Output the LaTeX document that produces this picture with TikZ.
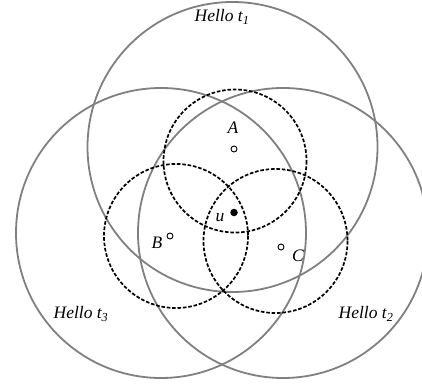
\documentclass[tikz,border=0pt]{standalone}
\usepackage{fontspec}
\setmainfont{Liberation Serif}
\begin{document}
\begin{tikzpicture}[x=1pt,y=-1pt,
  big/.style={draw=black!50, line width=1.8pt},
  rng/.style={draw=black, line width=1.7pt, dash pattern=on 3.6pt off 1.8pt},
  opn/.style={circle, draw=black, line width=0.9pt, fill=white, inner sep=0pt, minimum size=6pt},
  fil/.style={circle, fill=black, inner sep=0pt, minimum size=7.5pt},
  lbl/.style={font=\fontsize{17.5}{17.5}\selectfont\itshape, inner sep=0pt}]
\useasboundingbox (0,0) rectangle (422,387);
\coordinate (c1) at (232.5,147);
\coordinate (c3) at (161,233);
\coordinate (c2) at (283,233);
\draw[big] (c1) circle (145);
\draw[big] (c3) circle (145);
\draw[big] (c2) circle (145);
\draw[rng] (235,161) circle (71.5);
\draw[rng] (176,236) circle (72);
\draw[rng] (275.5,241) circle (72);
\node[opn] (A) at (234,149) {};
\node[opn] (B) at (170,236) {};
\node[opn] (C) at (281,247) {};
\node[fil] (u) at (234,212.5) {};
\node[lbl] (lA) at (233,128) {A};
\node[lbl] (lB) at (157,243) {B};
\node[lbl] (lC) at (298,256) {C};
\node[lbl] (lu) at (220,218) {u};
\node[lbl] (h1) at (222,17) {Hello t\textsubscript{1}};
\node[lbl] (h3) at (81,314) {Hello t\textsubscript{3}};
\node[lbl] (h2) at (366,314) {Hello t\textsubscript{2}};
\end{tikzpicture}
\end{document}
